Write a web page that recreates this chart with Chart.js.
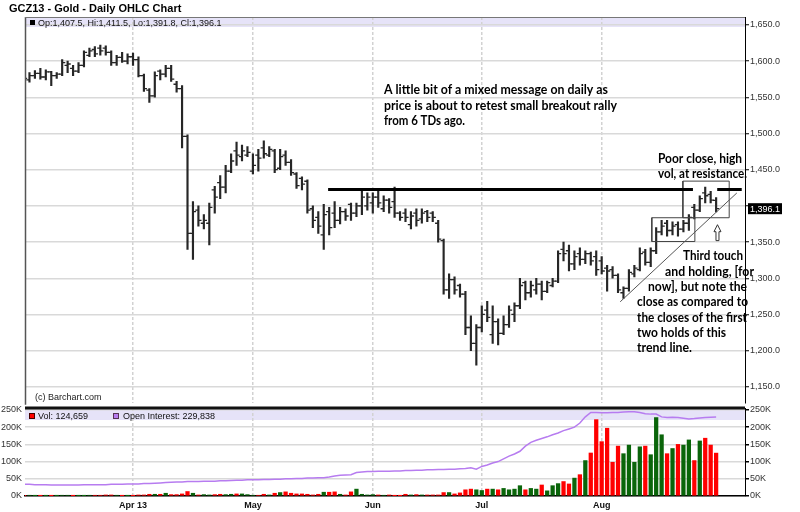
<!DOCTYPE html>
<html>
<head>
<meta charset="utf-8">
<script src="https://cdn.jsdelivr.net/npm/chart.js@4.4.1/dist/chart.umd.min.js"></script>
<style>
  html, body { margin:0; padding:0; background:#fff; }
  #wrap { position:relative; width:800px; height:512px; overflow:hidden; background:#fff; }
  #wrap canvas { position:absolute; left:0; }
  #c1 { top:0; }
  #c2 { top:398px; }
</style>
</head>
<body>
<div id="wrap">
  <canvas id="c1" width="800" height="408"></canvas>
  <canvas id="c2" width="800" height="114"></canvas>
</div>
<script>
// ---------------- DATA ----------------
const symbol = 'GCZ13';
const chartTitle = 'GCZ13 - Gold - Daily OHLC Chart';

const tradingDays = {
  '2013-03': [1,4,5,6,7,8,11,12,13,14,15,18,19,20,21,22,25,26,27,28],
  '2013-04': [1,2,3,4,5,8,9,10,11,12,15,16,17,18,19,22,23,24,25,26,29,30],
  '2013-05': [1,2,3,6,7,8,9,10,13,14,15,16,17,20,21,22,23,24,28,29,30,31],
  '2013-06': [3,4,5,6,7,10,11,12,13,14,17,18,19,20,21,24,25,26,27,28],
  '2013-07': [1,2,3,5,8,9,10,11,12,15,16,17,18,19,22,23,24,25,26,29,30,31],
  '2013-08': [1,2,5,6,7,8,9,12,13,14,15,16,19,20,21,22,23,26,27,28,29,30]
};
const monthLabels = ['Apr 13', 'May', 'Jun', 'Jul', 'Aug'];
const priceTicks = [1150, 1200, 1250, 1300, 1350, 1400, 1450, 1500, 1550, 1600, 1650];
const volumeTicks = [0, 50, 100, 150, 200, 250]; // thousands

const open = [
  1582,1574,1580,1583,1578,1585,1580,1582,1594,1590,1586,1594,1608,1616,1618,1618,1612,1598,1605,1600,
  1606,1602,1580,1560,1552,1586,1582,1590,1568,1562,1496,1362,1394,1376,1376,1422,1432,1426,1448,1476,1468,1470,
  1448,1470,1480,1470,1476,1452,1470,1460,1444,1438,1434,1396,1384,1360,1392,1390,1380,1392,1402,1390,1400,1400,
  1404,1412,1396,1408,1406,1390,1390,1374,1390,1382,1392,1390,1376,1352,1284,1298,1290,1278,1232,1210,
  1232,1256,1222,1240,1224,1236,1250,1262,1294,1280,1284,1292,1282,1290,1296,1340,1338,1320,1334,1326,1334,1330,
  1324,1314,1312,1304,1280,1286,1306,1312,1336,1322,1338,1364,1376,1366,1374,1368,1376,1398,1394,1418,1416,1407.5
];
const high = [
  1586,1584,1587,1590,1588,1586,1584,1602,1600,1594,1598,1614,1618,1620,1622,1621,1614,1608,1612,1610,
  1611,1606,1582,1562,1585,1588,1594,1594,1572,1566,1498,1406,1400,1388,1404,1427,1442,1456,1472,1488,1484,1482,
  1472,1478,1490,1482,1478,1478,1476,1464,1446,1440,1436,1400,1392,1402,1398,1406,1398,1396,1404,1404,1422,1418,
  1418,1420,1414,1410,1426,1392,1396,1392,1396,1396,1394,1392,1380,1354,1306,1302,1292,1282,1248,1236,
  1262,1268,1262,1244,1248,1262,1266,1300,1296,1296,1300,1296,1296,1300,1338,1350,1346,1338,1342,1338,1336,1338,
  1330,1318,1316,1306,1288,1312,1318,1342,1340,1342,1370,1380,1380,1378,1378,1380,1388,1402,1414,1426,1420,1411.5
];
const low = [
  1572,1571,1576,1575,1574,1566,1576,1580,1584,1580,1584,1592,1606,1606,1608,1608,1594,1594,1598,1596,
  1594,1578,1558,1543,1550,1574,1578,1572,1557,1480,1340,1326,1372,1368,1346,1390,1410,1418,1446,1456,1462,1468,
  1444,1448,1466,1468,1446,1450,1456,1442,1424,1422,1390,1370,1362,1340,1360,1370,1375,1380,1380,1385,1388,1394,
  1390,1398,1392,1390,1384,1380,1378,1368,1372,1376,1378,1378,1350,1278,1272,1278,1274,1222,1200,1180,
  1226,1240,1210,1208,1222,1232,1240,1258,1270,1274,1278,1270,1280,1288,1294,1324,1310,1312,1318,1320,1318,1304,
  1306,1282,1300,1280,1272,1282,1302,1310,1318,1316,1334,1360,1358,1360,1358,1364,1366,1382,1392,1404,1404,1391.8
];
const close = [
  1576,1580,1583,1578,1585,1580,1582,1598,1596,1586,1594,1612,1614,1610,1614,1612,1598,1605,1600,1606,
  1602,1580,1562,1552,1580,1582,1590,1575,1562,1496,1362,1392,1380,1380,1398,1412,1426,1448,1462,1470,1476,1474,
  1456,1466,1472,1478,1450,1468,1460,1446,1428,1430,1394,1380,1372,1388,1370,1380,1392,1386,1390,1400,1412,1412,
  1412,1404,1408,1398,1390,1384,1384,1386,1380,1390,1384,1384,1354,1284,1298,1284,1278,1232,1210,1232,
  1250,1246,1240,1224,1236,1256,1262,1290,1280,1290,1292,1282,1294,1296,1334,1334,1320,1330,1326,1334,1324,1312,
  1310,1310,1304,1284,1286,1308,1314,1334,1322,1338,1364,1372,1366,1372,1368,1376,1384,1394,1410,1414,1408,1396.1
];
// volume, thousands of contracts
const volume = [
  1,2,1,1,1,1,1,2,2,1,1,1,2,2,2,3,3,2,1,1,
  1,3,3,5,5,5,8,4,4,6,13,8,3,4,3,4,5,4,5,6,6,4,
  2,2,5,3,8,10,12,8,6,6,5,3,5,11,11,12,5,3,12,20,5,3,
  4,3,2,3,1,1,5,3,4,3,3,3,3,10,10,6,9,18,20,18,
  16,20,20,18,22,18,20,30,18,22,20,32,15,30,36,42,35,52,62,103,125,222,
  158,197,98,145,123,148,98,143,145,120,228,178,123,138,150,148,163,103,160,168,148,124.659
];
// open interest, thousands of contracts
const openInterest = [
  34,34,33,33,33,32,32,32,32,32,32,33,33,33,33,33,34,34,34,35,
  35,35,36,36,37,38,39,40,41,41,42,42,42,43,43,43,44,44,45,46,46,47,
  47,47,48,48,49,49,50,50,51,51,52,52,53,53,55,58,60,61,62,68,70,71,
  71,72,72,72,73,73,74,74,75,75,76,76,77,77,78,78,79,80,82,78,
  86,90,96,100,108,116,122,130,145,156,162,167,172,178,183,190,195,200,212,230,243,243,
  242,242,243,243,244,245,245,243,239,238,238,230,228,229,228,226,224,225,227,228,229,229.838
];

// Annotation geometry (in data units: trading-day index, price)
const resistancePrice = 1422.5;
const resistanceSpans = [[55.8, 122.75], [127.2, 131.7]];
const trendLine = [[109.4, 1267.5], [130.8, 1417.8]];
const boxes = [
  [115.2, 123.1, 1350.8, 1383.6],
  [120.9, 129.4, 1383.6, 1434.2]
];
const arrowMark = { x: 127.25, top: 1374, bottom: 1352 };

// ---------------- BUILD ----------------
const dates = [];
for (const [m, days] of Object.entries(tradingDays)) {
  for (const d of days) dates.push(m + '-' + String(d).padStart(2, '0'));
}
const idx = dates.map((d, i) => i);
const monthStarts = idx.filter(i => i > 0 && dates[i].slice(0, 7) !== dates[i - 1].slice(0, 7));
const L = dates.length - 1;

const X_MIN = 0.18, X_MAX = 132.3;
const TICK_OFF = 0.28;
const INK = '#262626';
const FONT = "'Liberation Sans', Arial, sans-serif";
const NOTE_FONT = "bold 13px Lato, 'Open Sans', sans-serif";
const GREEN = '#0a650a', RED = '#ff0000';
const BAND = '#e6e3f8';

Chart.defaults.font.family = FONT;
Chart.defaults.font.size = 9;
Chart.defaults.color = '#333';

const fmt1 = v => v.toLocaleString('en-US', { minimumFractionDigits: 1, maximumFractionDigits: 1 });

const hiLo = idx.map(i => ({ x: i, y: [low[i], high[i]] }));
const openPts = idx.map(i => ({ x: i - TICK_OFF, y: open[i] }));
const closePts = idx.map(i => ({ x: i + TICK_OFF, y: close[i] }));

const lineDs = (pts, color, width) => ({
  type: 'line', data: pts.map(p => ({ x: p[0], y: p[1] })),
  borderColor: color, borderWidth: width, pointRadius: 0, tension: 0, fill: false, order: 0
});

const annoSets = [];
for (const s of resistanceSpans) annoSets.push(lineDs([[s[0], resistancePrice], [s[1], resistancePrice]], '#000', 3));
annoSets.push(lineDs(trendLine, '#555', 1));
for (const b of boxes) annoSets.push(lineDs([[b[0], b[2]], [b[1], b[2]], [b[1], b[3]], [b[0], b[3]], [b[0], b[2]]], '#444', 1));

const notes = [
  ['A little bit of a mixed message on daily as', 384, 94, 224],
  ['price is about to retest small breakout rally', 384, 109.5, 233],
  ['from 6 TDs ago.', 384, 125, 81],
  ['Poor close, high', 658, 163, 84],
  ['vol, at resistance.', 658, 178, 89],
  ['Third touch', 683, 260, 60],
  ['and holding, [for', 665, 275.5, 89],
  ['now], but note the', 648, 291, 99],
  ['close as compared to', 637, 306, 111],
  ['the closes of the first', 637, 321.5, 110],
  ['two holds of this', 637, 337, 89],
  ['trend line.', 637, 352, 55]
];

const decorMain = {
  id: 'decorMain',
  beforeDraw(chart) {
    const { ctx, chartArea: a } = chart;
    ctx.save();
    ctx.fillStyle = BAND;
    ctx.fillRect(a.left, a.top, a.right - a.left, 10);
    ctx.restore();
  },
  afterDraw(chart) {
    const { ctx, chartArea: a, scales: { x, y } } = chart;
    ctx.save();
    // frame
    ctx.strokeStyle = '#555'; ctx.lineWidth = 1.5;
    ctx.beginPath(); ctx.moveTo(a.left + 0.5, a.top); ctx.lineTo(a.left + 0.5, a.bottom + 2); ctx.stroke();
    ctx.strokeStyle = '#777'; ctx.lineWidth = 1;
    ctx.beginPath(); ctx.moveTo(a.left, a.top + 0.5); ctx.lineTo(a.right, a.top + 0.5); ctx.stroke();
    // title
    ctx.fillStyle = '#000';
    ctx.font = 'bold 11px ' + FONT;
    ctx.textBaseline = 'alphabetic'; ctx.textAlign = 'left';
    ctx.fillText(chartTitle, 9, 12);
    // OHLC legend
    ctx.fillStyle = '#000';
    ctx.fillRect(30, 20, 5, 5);
    ctx.font = '9px ' + FONT;
    ctx.fillStyle = '#111';
    ctx.fillText(`Op:${fmt1(open[L])}, Hi:${fmt1(high[L])}, Lo:${fmt1(low[L])}, Cl:${fmt1(close[L])}`, 38, 26, 192);
    // copyright
    ctx.fillStyle = '#222';
    ctx.fillText('(c) Barchart.com', 35, 400);
    // last price label
    const py = y.getPixelForValue(close[L]);
    ctx.fillStyle = '#000';
    ctx.fillRect(a.right + 3, py - 5.5, 34, 11);
    ctx.fillStyle = '#fff';
    ctx.textBaseline = 'middle';
    ctx.fillText(fmt1(close[L]), a.right + 5, py + 0.5);
    // hollow up arrow
    const ax = x.getPixelForValue(arrowMark.x);
    const at = y.getPixelForValue(arrowMark.top);
    const ab = y.getPixelForValue(arrowMark.bottom);
    const hh = 7, hw = 3.5, sw = 1.5;
    ctx.strokeStyle = '#333'; ctx.lineWidth = 1;
    ctx.beginPath();
    ctx.moveTo(ax, at);
    ctx.lineTo(ax + hw, at + hh);
    ctx.lineTo(ax + sw, at + hh);
    ctx.lineTo(ax + sw, ab);
    ctx.lineTo(ax - sw, ab);
    ctx.lineTo(ax - sw, at + hh);
    ctx.lineTo(ax - hw, at + hh);
    ctx.closePath();
    ctx.stroke();
    // notes
    ctx.fillStyle = '#000';
    ctx.font = NOTE_FONT;
    ctx.textBaseline = 'alphabetic';
    for (const [t, tx, ty, w] of notes) ctx.fillText(t, tx, ty, w);
    ctx.restore();
  }
};

const decorVol = {
  id: 'decorVol',
  beforeDraw(chart) {
    const { ctx, chartArea: a } = chart;
    ctx.save();
    ctx.fillStyle = BAND;
    ctx.fillRect(a.left, a.top + 1, a.right - a.left, 11);
    ctx.restore();
  },
  afterDraw(chart) {
    const { ctx, chartArea: a } = chart;
    ctx.save();
    ctx.fillStyle = '#111';
    ctx.fillRect(a.left, a.top - 1.5, a.right - a.left, 3);
    // legend
    ctx.fillStyle = RED; ctx.fillRect(29, a.top + 5, 6, 6);
    ctx.strokeStyle = '#400'; ctx.lineWidth = 1; ctx.strokeRect(29.5, a.top + 5.5, 5, 5);
    ctx.fillStyle = '#b77cf0'; ctx.fillRect(113, a.top + 5, 6, 6);
    ctx.strokeStyle = '#535'; ctx.strokeRect(113.5, a.top + 5.5, 5, 5);
    ctx.font = '9px ' + FONT; ctx.fillStyle = '#111'; ctx.textBaseline = 'alphabetic';
    ctx.fillText('Vol: ' + Math.round(volume[L] * 1000).toLocaleString('en-US'), 38, a.top + 11);
    ctx.fillText('Open Interest: ' + Math.round(openInterest[L] * 1000).toLocaleString('en-US'), 123, a.top + 11);
    ctx.restore();
  }
};

const noPad = s => { s.paddingTop = 0; s.paddingBottom = 0; s.paddingLeft = 0; s.paddingRight = 0; };

const xScale = (withLabels) => ({
  type: 'linear', min: X_MIN, max: X_MAX, offset: false,
  afterBuildTicks: s => { s.ticks = monthStarts.map(v => ({ value: v })); },
  afterFit: s => { s.height = withLabels ? 16 : 0; noPad(s); },
  grid: { color: '#d2d2d2', lineWidth: 1.5, drawTicks: false, offset: false },
  border: withLabels ? { display: true, color: '#000', width: 1.5, dash: [3, 2] } : { display: false, dash: [3, 2] },
  ticks: withLabels ? {
    display: true, padding: 4, maxRotation: 0, autoSkip: false,
    font: { weight: 'bold', size: 9, family: FONT }, color: '#111',
    callback: v => monthLabels[monthStarts.indexOf(v)] || ''
  } : { display: false }
});

new Chart(document.getElementById('c1'), {
  type: 'bar',
  data: {
    datasets: [
      ...annoSets,
      { type: 'bar', data: hiLo, backgroundColor: INK, barThickness: 1.5, grouped: false, order: 2 },
      { type: 'line', data: openPts, showLine: false, pointStyle: 'line', pointRadius: 1.6,
        pointBorderWidth: 1.3, pointBorderColor: INK, borderColor: INK, order: 2 },
      { type: 'line', data: closePts, showLine: false, pointStyle: 'line', pointRadius: 1.6,
        pointBorderWidth: 1.3, pointBorderColor: INK, borderColor: INK, order: 2 }
    ]
  },
  options: {
    responsive: false, devicePixelRatio: 1, animation: false, events: [],
    layout: { padding: { left: 25, top: 17, right: 0, bottom: 1 } },
    plugins: { legend: { display: false }, tooltip: { enabled: false } },
    scales: {
      x: xScale(false),
      y: {
        position: 'right', min: 1128.1, max: 1660.9,
        afterBuildTicks: s => { s.ticks = priceTicks.map(v => ({ value: v })); },
        afterFit: s => { s.width = 55; noPad(s); },
        grid: { color: '#d9d9d9', lineWidth: 1.5, drawTicks: true, tickLength: 4, tickColor: '#000', tickWidth: 1 },
        border: { display: true, color: '#000', width: 1 },
        ticks: { padding: 1, color: '#333', font: { size: 9, family: FONT },
          callback: v => (v === 1400 ? '' : fmt1(v)) }
      }
    }
  },
  plugins: [decorMain]
});

new Chart(document.getElementById('c2'), {
  type: 'bar',
  data: {
    datasets: [
      { type: 'line', data: idx.map(i => ({ x: i, y: openInterest[i] })), borderColor: '#b77cf0',
        borderWidth: 1.5, pointRadius: 0, tension: 0, order: 0 },
      { type: 'bar', data: idx.map(i => ({ x: i, y: volume[i] })), barThickness: 3.6, grouped: false,
        backgroundColor: idx.map(i => (close[i] < open[i] ? RED : GREEN)), order: 1 }
    ]
  },
  options: {
    responsive: false, devicePixelRatio: 1, animation: false, events: [],
    layout: { padding: { left: 0, top: 10, right: 0, bottom: 0 } },
    plugins: { legend: { display: false }, tooltip: { enabled: false } },
    scales: {
      x: xScale(true),
      y: {
        position: 'right', min: 0, max: 255.8,
        afterBuildTicks: s => { s.ticks = volumeTicks.map(v => ({ value: v })); },
        afterFit: s => { s.width = 55; noPad(s); },
        grid: { color: '#d9d9d9', lineWidth: 1.5, drawTicks: true, tickLength: 4, tickColor: '#000' },
        border: { display: true, color: '#000', width: 1 },
        ticks: { padding: 1, color: '#333', font: { size: 9, family: FONT }, callback: v => v + 'K' }
      },
      yl: {
        position: 'left', min: 0, max: 255.8,
        afterBuildTicks: s => { s.ticks = volumeTicks.map(v => ({ value: v })); },
        afterFit: s => { s.width = 25; noPad(s); },
        grid: { display: false, drawTicks: false },
        border: { display: false },
        ticks: { padding: 3, color: '#333', font: { size: 9, family: FONT }, callback: v => v + 'K' }
      }
    }
  },
  plugins: [decorVol]
});
</script>
</body>
</html>
